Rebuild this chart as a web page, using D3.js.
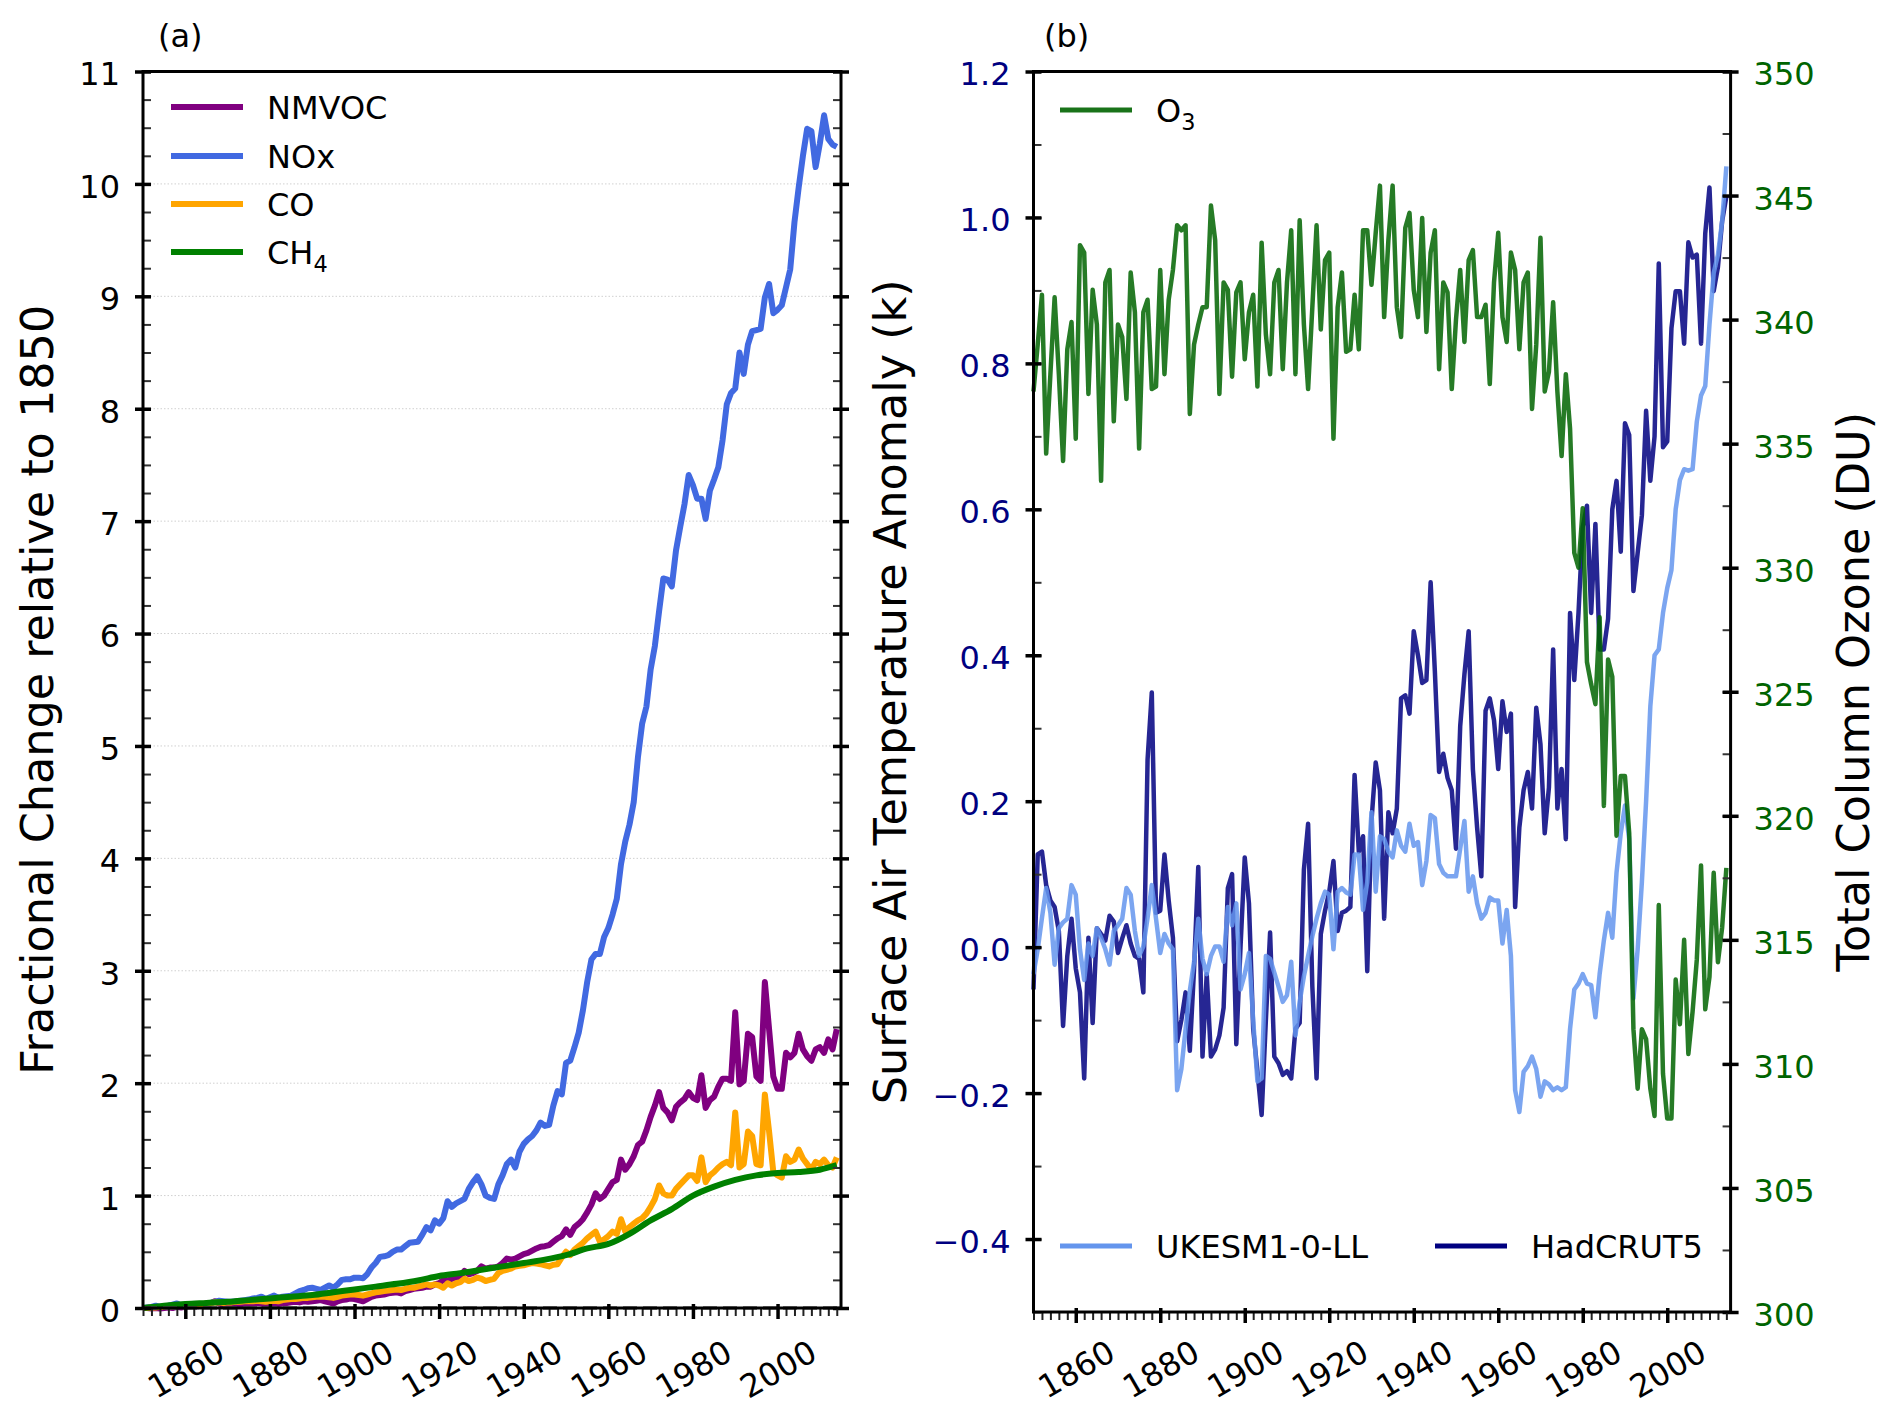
<!DOCTYPE html>
<html lang="en">

<head>
    <meta charset="utf-8" />
    <title>Precursor emissions, temperature and ozone</title>
    <script src="https://cdn.jsdelivr.net/npm/d3@7"></script>
    <style type="text/css">
        body {
            margin: 0;
            background: #fff;
        }
        svg text {
            font-family: "DejaVu Sans", sans-serif;
        }
    </style>
</head>

<body>
    <script type="text/javascript">
        // annual values 1850-2014
        var years = d3.range(1850, 2015);

        // panel (a): fractional change relative to 1850
        var nmvoc = [
            0.0, 0.0, -0.005, 0.0, -0.005, 0.0, 0.005, 0.0, 0.01, 0.005,
            0.01, 0.015, 0.02, 0.015, 0.03, 0.02, 0.04, 0.06, 0.04, 0.03,
            0.025, 0.03, 0.035, 0.03, 0.04, 0.035, 0.04, 0.045, 0.04, 0.03,
            0.035, 0.04, 0.035, 0.04, 0.045, 0.05, 0.055, 0.05, 0.06, 0.055,
            0.06, 0.065, 0.07, 0.06, 0.05, 0.04, 0.06, 0.07, 0.075, 0.085,
            0.08, 0.07, 0.06, 0.08, 0.10, 0.11, 0.115, 0.12, 0.13, 0.135,
            0.14, 0.13, 0.15, 0.16, 0.17, 0.175, 0.18, 0.19, 0.19, 0.21,
            0.22, 0.25, 0.24, 0.26, 0.27, 0.28, 0.33, 0.30, 0.31, 0.33,
            0.37, 0.35, 0.36, 0.36, 0.37, 0.40, 0.44, 0.43, 0.44, 0.46,
            0.48, 0.49, 0.51, 0.53, 0.545, 0.55, 0.56, 0.59, 0.62, 0.64,
            0.70, 0.65, 0.72, 0.75, 0.79, 0.85, 0.92, 1.02, 0.97, 1.00,
            1.06, 1.12, 1.14, 1.32, 1.23, 1.28, 1.35, 1.45, 1.48, 1.58,
            1.70, 1.80, 1.92, 1.78, 1.74, 1.67, 1.79, 1.83, 1.86, 1.92,
            1.87, 1.85, 2.07, 1.78, 1.85, 1.88, 1.97, 2.04, 2.04, 2.02,
            2.63, 1.99, 2.02, 2.44, 2.41, 2.06, 2.02, 2.90, 2.48, 2.06,
            1.95, 1.95, 2.27, 2.23, 2.27, 2.44, 2.30, 2.24, 2.20, 2.30,
            2.32, 2.27, 2.39, 2.30, 2.48
        ];
        var nox = [
            0.0, 0.005, 0.01, 0.02, 0.01, 0.015, 0.02, 0.03, 0.04, 0.02,
            0.025, 0.03, 0.03, 0.035, 0.03, 0.035, 0.045, 0.055, 0.065, 0.06,
            0.055, 0.055, 0.06, 0.065, 0.07, 0.075, 0.085, 0.09, 0.10, 0.08,
            0.095, 0.11, 0.09, 0.10, 0.105, 0.11, 0.13, 0.15, 0.16, 0.175,
            0.18, 0.17, 0.16, 0.18, 0.20, 0.18, 0.21, 0.25, 0.255, 0.255,
            0.27, 0.27, 0.265, 0.30, 0.36, 0.40, 0.455, 0.46, 0.47, 0.50,
            0.52, 0.52, 0.55, 0.58, 0.585, 0.59, 0.65, 0.72, 0.69, 0.78,
            0.75, 0.80, 0.95, 0.90, 0.93, 0.95, 0.97, 1.06, 1.12, 1.17,
            1.10, 1.00, 0.98, 0.97, 1.10, 1.18, 1.28, 1.32, 1.25, 1.39,
            1.46, 1.50, 1.53, 1.58, 1.65, 1.62, 1.63, 1.80, 1.93, 1.90,
            2.18, 2.20, 2.32, 2.45, 2.65, 2.90, 3.10, 3.15, 3.15, 3.30,
            3.38, 3.50, 3.64, 3.95, 4.15, 4.30, 4.50, 4.90, 5.20, 5.35,
            5.68, 5.89, 6.20, 6.49, 6.48, 6.42, 6.74, 6.95, 7.15, 7.41,
            7.32, 7.20, 7.20, 7.02, 7.27, 7.37, 7.48, 7.72, 8.04, 8.14,
            8.18, 8.50, 8.31, 8.57, 8.69, 8.70, 8.71, 8.99, 9.11, 8.85,
            8.88, 8.92, 9.08, 9.24, 9.66, 9.97, 10.25, 10.49, 10.47, 10.15,
            10.36, 10.61, 10.40, 10.35, 10.33
        ];
        var co = [
            0.0, 0.0, 0.005, 0.005, 0.01, 0.01, 0.015, 0.015, 0.02, 0.02,
            0.025, 0.03, 0.03, 0.035, 0.035, 0.04, 0.045, 0.05, 0.05, 0.045,
            0.05, 0.05, 0.055, 0.055, 0.06, 0.06, 0.06, 0.065, 0.06, 0.055,
            0.06, 0.065, 0.06, 0.07, 0.075, 0.08, 0.08, 0.085, 0.09, 0.09,
            0.095, 0.10, 0.10, 0.10, 0.095, 0.09, 0.10, 0.11, 0.115, 0.12,
            0.12, 0.115, 0.11, 0.12, 0.13, 0.14, 0.145, 0.15, 0.155, 0.16,
            0.165, 0.16, 0.17, 0.18, 0.18, 0.19, 0.20, 0.21, 0.20, 0.21,
            0.20, 0.18, 0.22, 0.20, 0.22, 0.23, 0.26, 0.24, 0.25, 0.27,
            0.26, 0.24, 0.25, 0.26, 0.31, 0.33, 0.34, 0.35, 0.37, 0.375,
            0.38, 0.39, 0.40, 0.395, 0.39, 0.38, 0.37, 0.385, 0.39, 0.45,
            0.50, 0.47, 0.52, 0.55, 0.58, 0.62, 0.65, 0.68, 0.59, 0.61,
            0.64, 0.68, 0.66, 0.79, 0.68, 0.72, 0.75, 0.78, 0.80, 0.84,
            0.90, 0.97, 1.09, 1.02, 1.00, 1.00, 1.06, 1.10, 1.14, 1.18,
            1.18, 1.13, 1.34, 1.12, 1.18, 1.21, 1.25, 1.28, 1.30, 1.27,
            1.74, 1.25, 1.28, 1.57, 1.53, 1.28, 1.27, 1.90, 1.57, 1.21,
            1.18, 1.16, 1.35, 1.30, 1.32, 1.41, 1.33, 1.28, 1.23, 1.30,
            1.28, 1.32, 1.27, 1.25, 1.34
        ];
        // methane is smooth, read every five years
        var ch4Years = [1850, 1855, 1860, 1865, 1870, 1875, 1880, 1885, 1890, 1895,
            1900, 1905, 1910, 1915, 1920, 1925, 1930, 1935, 1940, 1945,
            1950, 1955, 1960, 1965, 1970, 1975, 1980, 1985, 1990, 1995,
            2000, 2005, 2010, 2014];
        var ch4 = [0.0, 0.02, 0.035, 0.045, 0.055, 0.07, 0.085, 0.10, 0.115, 0.14,
            0.165, 0.19, 0.215, 0.245, 0.285, 0.31, 0.34, 0.37, 0.40, 0.43,
            0.47, 0.53, 0.57, 0.66, 0.78, 0.88, 1.00, 1.08, 1.14, 1.18,
            1.20, 1.21, 1.23, 1.27];

        // panel (b): total column ozone (DU)
        var o3 = [
            337.1, 339.0, 341.0, 334.6, 337.8, 340.9, 337.8, 334.3, 338.8, 339.9,
            335.2, 343.0, 342.7, 337.0, 341.2, 339.8, 333.5, 341.5, 342.0, 335.9,
            339.8, 339.3, 336.8, 341.9, 340.3, 334.8, 340.3, 340.8, 337.2, 337.3,
            342.0, 337.8, 340.8, 342.0, 343.8, 343.6, 343.8, 336.2, 339.0, 339.8,
            340.5, 340.5, 344.6, 343.2, 337.0, 341.5, 341.2, 337.7, 341.1, 341.5,
            338.4, 340.3, 341.0, 337.3, 343.1, 339.4, 337.8, 341.5, 342.0, 338.0,
            341.5, 343.6, 337.8, 344.0, 339.8, 337.2, 340.5, 343.8, 339.6, 342.4,
            342.7, 335.2, 340.5, 341.9, 338.7, 338.8, 341.0, 338.8, 343.6, 343.6,
            341.4, 343.5, 345.4, 340.1, 343.2, 345.4, 340.5, 339.3, 343.7, 344.3,
            341.2, 340.1, 344.1, 339.5, 342.7, 343.6, 338.0, 341.5, 341.1, 337.2,
            340.0, 342.0, 339.1, 342.4, 342.8, 340.1, 340.1, 340.6, 337.4, 341.5,
            343.5, 340.1, 339.1, 342.7, 342.0, 338.8, 341.5, 341.9, 336.4, 339.0,
            343.3, 337.1, 337.9, 340.7, 337.1, 334.5, 337.8, 335.6, 330.6, 330.0,
            332.4, 326.2, 325.3, 324.5, 328.0, 320.4, 326.3, 325.6, 319.2, 321.6,
            321.6, 319.3, 311.4, 309.0, 311.4, 311.0, 309.0, 307.9, 316.4, 309.6,
            307.8, 307.8, 313.4, 311.6, 315.0, 310.4, 312.1, 314.2, 318.0, 312.2,
            313.5, 317.7, 314.1, 315.5, 317.9
        ];
        // panel (b): surface air temperature anomaly (K)
        var ukesm = [
            -0.037, -0.003, 0.04, 0.081, 0.047, -0.024, 0.026, 0.034, 0.039, 0.085,
            0.072, -0.003, -0.045, 0.005, -0.012, 0.026, 0.013, -0.003, -0.024, 0.022,
            0.03, 0.039, 0.081, 0.072, 0.022, -0.012, 0.001, 0.04, 0.085, 0.039,
            -0.008, 0.018, 0.005, -0.003, -0.196, -0.167, -0.112, -0.06, -0.02, 0.039,
            -0.016, -0.037, -0.012, 0.001, 0.001, -0.02, 0.055, 0.03, 0.06, -0.058,
            -0.037, -0.008, -0.10, -0.184, -0.18, -0.012, -0.016, -0.035, -0.054, -0.075,
            -0.066, -0.02, -0.121, -0.075, -0.04, -0.012, 0.015, 0.039, 0.06, 0.076,
            0.072, -0.003, 0.076, 0.081, 0.075, 0.072, 0.127, 0.127, 0.051, 0.089,
            0.185, 0.076, 0.152, 0.148, 0.131, 0.123, 0.16, 0.139, 0.131, 0.169,
            0.139, 0.144, 0.085, 0.118, 0.181, 0.177, 0.114, 0.102, 0.097, 0.097,
            0.097, 0.135, 0.173, 0.076, 0.097, 0.06, 0.039, 0.047, 0.068, 0.064,
            0.064, 0.005, 0.051, -0.012, -0.196, -0.226, -0.171, -0.163, -0.15, -0.167,
            -0.205, -0.184, -0.188, -0.196, -0.192, -0.196, -0.192, -0.112, -0.058, -0.05,
            -0.037, -0.05, -0.052, -0.096, -0.037, 0.009, 0.047, 0.013, 0.102, 0.156,
            0.194, 0.148, -0.07, -0.003, 0.089, 0.20, 0.33, 0.40, 0.408, 0.458,
            0.492, 0.517, 0.60, 0.64, 0.655, 0.653, 0.655, 0.72, 0.756, 0.769,
            0.853, 0.924, 0.949, 0.995, 1.07
        ];
        var hadcrut = [
            -0.058, 0.127, 0.131, 0.085, 0.064, 0.055, 0.022, -0.108, -0.012, 0.039,
            -0.029, -0.062, -0.18, 0.013, -0.104, 0.026, 0.018, 0.009, 0.043, 0.035,
            -0.008, 0.012, 0.03, 0.005, -0.012, -0.016, -0.062, 0.257, 0.349, 0.047,
            0.05, 0.127, 0.064, 0.013, -0.129, -0.10, -0.062, -0.142, -0.03, 0.11,
            -0.15, -0.037, -0.15, -0.14, -0.121, -0.083, 0.081, 0.10, -0.133, 0.0,
            0.123, 0.06, -0.112, -0.17, -0.23, -0.10, 0.02, -0.15, -0.159, -0.175,
            -0.17, -0.18, -0.112, -0.104, 0.106, 0.169, -0.054, -0.18, 0.018, 0.05,
            0.076, 0.118, 0.022, 0.047, 0.05, 0.055, 0.236, 0.131, 0.152, -0.033,
            0.173, 0.253, 0.215, 0.039, 0.185, 0.156, 0.19, 0.341, 0.345, 0.32,
            0.433, 0.40, 0.362, 0.366, 0.50, 0.378, 0.24, 0.265, 0.232, 0.215,
            0.135, 0.303, 0.374, 0.433, 0.244, 0.164, 0.097, 0.324, 0.341, 0.311,
            0.244, 0.337, 0.295, 0.32, 0.055, 0.164, 0.215, 0.24, 0.19, 0.328,
            0.278, 0.156, 0.219, 0.408, 0.19, 0.244, 0.148, 0.458, 0.366, 0.458,
            0.576, 0.605, 0.458, 0.58, 0.408, 0.408, 0.45, 0.60, 0.639, 0.542,
            0.718, 0.702, 0.488, 0.54, 0.592, 0.735, 0.639, 0.70, 0.937, 0.685,
            0.693, 0.848, 0.899, 0.899, 0.827, 0.966, 0.945, 0.949, 0.827, 0.978,
            1.041, 0.899, 0.932, 0.995, 1.029
        ];

        // ticks
        var xTicks = [1860, 1880, 1900, 1920, 1940, 1960, 1980, 2000];
        var xMinorTicks = d3.range(1850, 2016, 2);
        var fracTicks = d3.range(0, 12);
        var fracMinorTicks = d3.range(0, 11.01, 0.25);
        var tempTicks = [-0.4, -0.2, 0.0, 0.2, 0.4, 0.6, 0.8, 1.0, 1.2];
        var tempMinorTicks = d3.range(-5, 13).map(function(d) { return d / 10; });
        var ozoneTicks = [300, 305, 310, 315, 320, 325, 330, 335, 340, 345, 350];
        var ozoneMinorTicks = d3.range(300, 350.1, 2.5);

        var w = 1892;
        var h = 1418;
        var panelA = { left: 143, right: 841, top: 71.5, bottom: 1308 };
        var panelB = { left: 1033.5, right: 1730.6, top: 71.5, bottom: 1312 };
        var tickFont = 32;
        var labelFont = 44.5;
        var legendFont = 32;

        var svg = d3.select("body")
            .append("svg")
            .attr("width", w)
            .attr("height", h)
            .style("background", "#fff");

        var xA = d3.scaleLinear().domain([1850, 2015]).range([panelA.left, panelA.right]);
        var yA = d3.scaleLinear().domain([0, 11]).range([panelA.bottom, panelA.top]);
        var xB = d3.scaleLinear().domain([1850, 2015]).range([panelB.left, panelB.right]);
        var yT = d3.scaleLinear().domain([-0.5, 1.2]).range([panelB.bottom, panelB.top]);
        var yO = d3.scaleLinear().domain([300, 350]).range([panelB.bottom, panelB.top]);

        function yAxis(x, scale, side, majors, minors, fmt, color, labels) {
            var make = side == "left" ? d3.axisLeft : d3.axisRight;
            var sign = side == "left" ? 1 : -1;
            var minor = svg.append("g")
                .attr("transform", "translate(" + x + ",0)")
                .call(make(scale).tickValues(minors).tickSize(-8).tickFormat(""));
            minor.select(".domain").remove();
            minor.selectAll(".tick line").attr("stroke", "#333").attr("stroke-width", 2);

            var major = svg.append("g")
                .attr("transform", "translate(" + x + ",0)")
                .call(make(scale).tickValues(majors).tickSize(8).tickPadding(15).tickFormat(fmt));
            major.select(".domain").remove();
            major.selectAll(".tick line")
                .attr("x1", sign * 8)
                .attr("stroke", "#000")
                .attr("stroke-width", 3.5);
            major.selectAll("text")
                .attr("font-size", tickFont)
                .attr("font-family", "DejaVu Sans")
                .attr("dy", "0.42em")
                .attr("fill", color)
                .style("display", labels ? null : "none");
        }

        function xAxis(y, scale) {
            var minor = svg.append("g")
                .attr("transform", "translate(0," + y + ")")
                .call(d3.axisBottom(scale).tickValues(xMinorTicks).tickSize(8).tickFormat(""));
            minor.select(".domain").remove();
            minor.selectAll(".tick line").attr("stroke", "#222").attr("stroke-width", 2);

            var major = svg.append("g")
                .attr("transform", "translate(0," + y + ")")
                .call(d3.axisBottom(scale).tickValues(xTicks).tickSize(11).tickFormat(d3.format("d")));
            major.select(".domain").remove();
            major.selectAll(".tick line")
                .attr("y1", -4)
                .attr("stroke", "#000")
                .attr("stroke-width", 3.5);
            major.selectAll("text")
                .attr("font-size", tickFont)
                .attr("font-family", "DejaVu Sans")
                .attr("fill", "#000")
                .attr("y", 0)
                .attr("dy", "0.36em")
                .attr("text-anchor", "middle")
                .attr("transform", "translate(0," + (1369 - y) + ") rotate(-30)");
        }

        function legendRow(x, y, color, width, opacity, label, sub) {
            svg.append("line")
                .attr("x1", x)
                .attr("x2", x + 72)
                .attr("y1", y)
                .attr("y2", y)
                .attr("stroke", color)
                .attr("stroke-opacity", opacity)
                .attr("stroke-width", width);
            var t = svg.append("text")
                .attr("x", x + 96)
                .attr("y", y)
                .attr("dy", "0.36em")
                .attr("font-size", legendFont)
                .attr("fill", "#000")
                .text(label);
            if (sub) {
                t.append("tspan")
                    .attr("dy", 8)
                    .attr("font-size", legendFont * 0.7)
                    .text(sub);
            }
        }

        // ---------- panel (a) ----------
        svg.append("g")
            .selectAll("line")
            .data(fracTicks.slice(1, 11))
            .enter()
            .append("line")
            .attr("x1", panelA.left)
            .attr("x2", panelA.right)
            .attr("y1", function(d) { return yA(d); })
            .attr("y2", function(d) { return yA(d); })
            .attr("stroke", "#d0d0d0")
            .attr("stroke-width", 1)
            .attr("stroke-dasharray", "1.5,2");

        var lineA = d3.line()
            .x(function(d, i) { return xA(years[i]); })
            .y(function(d) { return yA(d); });

        var seriesA = [
            { values: nmvoc, color: "#800080" },
            { values: nox, color: "#4169e1" },
            { values: co, color: "#ffa500" }
        ];
        svg.append("g")
            .selectAll("path")
            .data(seriesA)
            .enter()
            .append("path")
            .attr("d", function(d) { return lineA(d.values); })
            .attr("fill", "none")
            .attr("stroke", function(d) { return d.color; })
            .attr("stroke-width", 6)
            .attr("stroke-linejoin", "round");

        svg.append("path")
            .attr("d", d3.line()
                .x(function(d, i) { return xA(ch4Years[i]); })
                .y(function(d) { return yA(d); })
                .curve(d3.curveMonotoneX)(ch4))
            .attr("fill", "none")
            .attr("stroke", "#008000")
            .attr("stroke-width", 6);

        svg.append("line")
            .attr("x1", panelA.left)
            .attr("x2", panelA.right)
            .attr("y1", yA(0))
            .attr("y2", yA(0))
            .attr("stroke", "#666")
            .attr("stroke-width", 3.5)
            .attr("stroke-dasharray", "14,6");

        yAxis(panelA.left, yA, "left", fracTicks, fracMinorTicks, d3.format("d"), "#000", true);
        yAxis(panelA.right, yA, "right", fracTicks, fracMinorTicks, d3.format("d"), "#000", false);
        xAxis(panelA.bottom, xA);

        svg.append("rect")
            .attr("x", panelA.left)
            .attr("y", panelA.top)
            .attr("width", panelA.right - panelA.left)
            .attr("height", panelA.bottom - panelA.top)
            .attr("fill", "none")
            .attr("stroke", "#000")
            .attr("stroke-width", 3);

        legendRow(171, 107, "#800080", 6, 1, "NMVOC");
        legendRow(171, 156, "#4169e1", 6, 1, "NOx");
        legendRow(171, 204, "#ffa500", 6, 1, "CO");
        legendRow(171, 252, "#008000", 6, 1, "CH", "4");

        svg.append("text")
            .attr("x", 158)
            .attr("y", 47)
            .attr("font-size", 32)
            .text("(a)");

        svg.append("text")
            .attr("transform", "translate(53," + (panelA.top + panelA.bottom) / 2 + ") rotate(-90)")
            .attr("text-anchor", "middle")
            .attr("font-size", labelFont)
            .text("Fractional Change relative to 1850");

        // ---------- panel (b) ----------
        var lineT = d3.line()
            .x(function(d, i) { return xB(years[i]); })
            .y(function(d) { return yT(d); });
        var lineO = d3.line()
            .x(function(d, i) { return xB(years[i]); })
            .y(function(d) { return yO(d); });

        svg.append("path")
            .attr("d", lineT(hadcrut))
            .attr("fill", "none")
            .attr("stroke", "#000080")
            .attr("stroke-opacity", 0.85)
            .attr("stroke-width", 4.5)
            .attr("stroke-linejoin", "round");

        svg.append("path")
            .attr("d", lineT(ukesm))
            .attr("fill", "none")
            .attr("stroke", "#6495ed")
            .attr("stroke-opacity", 0.85)
            .attr("stroke-width", 4.5)
            .attr("stroke-linejoin", "round");

        svg.append("path")
            .attr("d", lineO(o3))
            .attr("fill", "none")
            .attr("stroke", "#006400")
            .attr("stroke-opacity", 0.85)
            .attr("stroke-width", 4.5)
            .attr("stroke-linejoin", "round");

        yAxis(panelB.left, yT, "left", tempTicks, tempMinorTicks,
            function(d) { return d3.format(".1f")(d).replace("-", "\u2212"); }, "#000080", true);
        yAxis(panelB.right, yO, "right", ozoneTicks, ozoneMinorTicks, d3.format("d"), "#006400", true);
        xAxis(panelB.bottom, xB);

        svg.append("rect")
            .attr("x", panelB.left)
            .attr("y", panelB.top)
            .attr("width", panelB.right - panelB.left)
            .attr("height", panelB.bottom - panelB.top)
            .attr("fill", "none")
            .attr("stroke", "#000")
            .attr("stroke-width", 3);

        legendRow(1060, 110, "#006400", 4.8, 0.9, "O", "3");
        legendRow(1060, 1246, "#6495ed", 4.8, 1, "UKESM1-0-LL");
        legendRow(1435, 1246, "#000080", 4.8, 1, "HadCRUT5");

        svg.append("text")
            .attr("x", 1044)
            .attr("y", 47)
            .attr("font-size", 32)
            .text("(b)");

        svg.append("text")
            .attr("transform", "translate(906," + (panelB.top + panelB.bottom) / 2 + ") rotate(-90)")
            .attr("text-anchor", "middle")
            .attr("font-size", labelFont)
            .text("Surface Air Temperature Anomaly (k)");

        svg.append("text")
            .attr("transform", "translate(1869," + (panelB.top + panelB.bottom) / 2 + ") rotate(-90)")
            .attr("text-anchor", "middle")
            .attr("font-size", labelFont)
            .text("Total Column Ozone (DU)");
    </script>
</body>

</html>
